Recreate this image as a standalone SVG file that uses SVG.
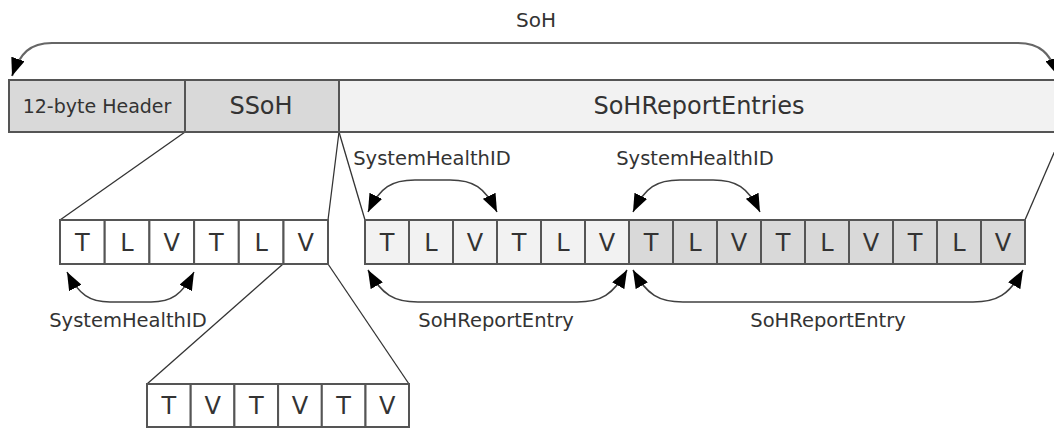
<svg xmlns="http://www.w3.org/2000/svg" width="1054" height="430" viewBox="0 0 1054 430">
  <defs>
    <style>
      text { font-family: "DejaVu Sans", Verdana, sans-serif; fill: #333333; text-anchor: middle; }
      .lbl { font-size: 19.5px; }
      .cell { font-size: 24px; }
      .big { font-size: 24px; }
      .box { stroke: #555555; stroke-width: 2; }
      .dark { fill: #d9d9d9; }
      .light { fill: #f2f2f2; }
      .white { fill: #ffffff; }
      .ln { fill: none; stroke: #333333; stroke-width: 1.3; }
      .arc { fill: none; stroke: #404040; stroke-width: 1.6; marker-start: url(#ah); marker-end: url(#ah); }
    </style>
    <marker id="ah" viewBox="0 0 18 14" refX="18" refY="7" markerWidth="18" markerHeight="14" markerUnits="userSpaceOnUse" orient="auto-start-reverse">
      <path d="M0,0 L18,7 L0,14 z" fill="#000000"/>
    </marker>
  </defs>

  <g id="connectors">
    <path class="ln" d="M185,132 L60,220"/>
    <path class="ln" d="M339,132 L328,220"/>
    <path class="ln" d="M339,132 L365,220"/>
    <path class="ln" d="M1063,132 L1025,220"/>
    <path class="ln" d="M283,264 L147,384"/>
    <path class="ln" d="M328,264 L409,384"/>
    <path class="arc" style="stroke:#666666;stroke-width:2.2" d="M12,76 C20,53 30,43 52,43 L1018,43 C1040,43 1050,53 1058,76"/>
    <path class="arc" d="M368,212 C380,187 392,180 415,180 L450,180 C473,180 485,187 497,212"/>
    <path class="arc" d="M633,212 C645,187 657,180 680,180 L713,180 C736,180 748,187 760,212"/>
    <path class="arc" d="M368,270 C382,295 394,302 418,302 L577,302 C601,302 613,295 627,270"/>
    <path class="arc" d="M633,270 C647,295 659,302 683,302 L973,302 C997,302 1009,295 1023,270"/>
    <path class="arc" d="M67,272 C79,295 90,302 110,302 L151,302 C171,302 182,295 194,272"/>
  </g>

  <g id="soh-label"><text class="lbl" x="536" y="27" style="font-size:20px">SoH</text></g>

  <g id="header">
    <rect class="box dark" x="9" y="80" width="176" height="52"/>
    <text x="97" y="113" style="font-size:19px">12-byte Header</text>
  </g>
  <g id="ssoh">
    <rect class="box dark" x="185" y="80" width="154" height="52"/>
    <text class="big" x="261" y="114">SSoH</text>
  </g>
  <g id="sohreportentries">
    <rect class="box light" x="339" y="80" width="730" height="52"/>
    <text class="big" x="699" y="114">SoHReportEntries</text>
  </g>

  <g id="ssoh-tlv">
    <rect class="box white" x="60" y="220" width="44.7" height="44"/>
    <rect class="box white" x="104.7" y="220" width="44.7" height="44"/>
    <rect class="box white" x="149.4" y="220" width="44.7" height="44"/>
    <rect class="box white" x="194.1" y="220" width="44.7" height="44"/>
    <rect class="box white" x="238.8" y="220" width="44.7" height="44"/>
    <rect class="box white" x="283.5" y="220" width="44.5" height="44"/>
    <text class="cell" x="82.3" y="251">T</text>
    <text class="cell" x="127" y="251">L</text>
    <text class="cell" x="171.7" y="251">V</text>
    <text class="cell" x="216.4" y="251">T</text>
    <text class="cell" x="261.1" y="251">L</text>
    <text class="cell" x="305.8" y="251">V</text>
  </g>

  <g id="tvtv">
    <rect class="box white" x="147" y="384" width="43.7" height="43"/>
    <rect class="box white" x="190.7" y="384" width="43.7" height="43"/>
    <rect class="box white" x="234.4" y="384" width="43.7" height="43"/>
    <rect class="box white" x="278.1" y="384" width="43.7" height="43"/>
    <rect class="box white" x="321.8" y="384" width="43.7" height="43"/>
    <rect class="box white" x="365.5" y="384" width="43.5" height="43"/>
    <text class="cell" x="168.9" y="414">T</text>
    <text class="cell" x="212.6" y="414">V</text>
    <text class="cell" x="256.3" y="414">T</text>
    <text class="cell" x="300" y="414">V</text>
    <text class="cell" x="343.7" y="414">T</text>
    <text class="cell" x="387.3" y="414">V</text>
  </g>

  <g id="report-tlv">
    <rect class="box light" x="365" y="220" width="44" height="44"/>
    <rect class="box light" x="409" y="220" width="44" height="44"/>
    <rect class="box light" x="453" y="220" width="44" height="44"/>
    <rect class="box light" x="497" y="220" width="44" height="44"/>
    <rect class="box light" x="541" y="220" width="44" height="44"/>
    <rect class="box light" x="585" y="220" width="44" height="44"/>
    <rect class="box dark" x="629" y="220" width="44" height="44"/>
    <rect class="box dark" x="673" y="220" width="44" height="44"/>
    <rect class="box dark" x="717" y="220" width="44" height="44"/>
    <rect class="box dark" x="761" y="220" width="44" height="44"/>
    <rect class="box dark" x="805" y="220" width="44" height="44"/>
    <rect class="box dark" x="849" y="220" width="44" height="44"/>
    <rect class="box dark" x="893" y="220" width="44" height="44"/>
    <rect class="box dark" x="937" y="220" width="44" height="44"/>
    <rect class="box dark" x="981" y="220" width="44" height="44"/>
    <text class="cell" x="387" y="251">T</text>
    <text class="cell" x="431" y="251">L</text>
    <text class="cell" x="475" y="251">V</text>
    <text class="cell" x="519" y="251">T</text>
    <text class="cell" x="563" y="251">L</text>
    <text class="cell" x="607" y="251">V</text>
    <text class="cell" x="651" y="251">T</text>
    <text class="cell" x="695" y="251">L</text>
    <text class="cell" x="739" y="251">V</text>
    <text class="cell" x="783" y="251">T</text>
    <text class="cell" x="827" y="251">L</text>
    <text class="cell" x="871" y="251">V</text>
    <text class="cell" x="915" y="251">T</text>
    <text class="cell" x="959" y="251">L</text>
    <text class="cell" x="1003" y="251">V</text>
  </g>

  <g id="labels">
    <text class="lbl" x="432" y="165">SystemHealthID</text>
    <text class="lbl" x="695" y="165">SystemHealthID</text>
    <text class="lbl" x="128" y="327">SystemHealthID</text>
    <text class="lbl" x="496" y="327">SoHReportEntry</text>
    <text class="lbl" x="828" y="327">SoHReportEntry</text>
  </g>
</svg>
